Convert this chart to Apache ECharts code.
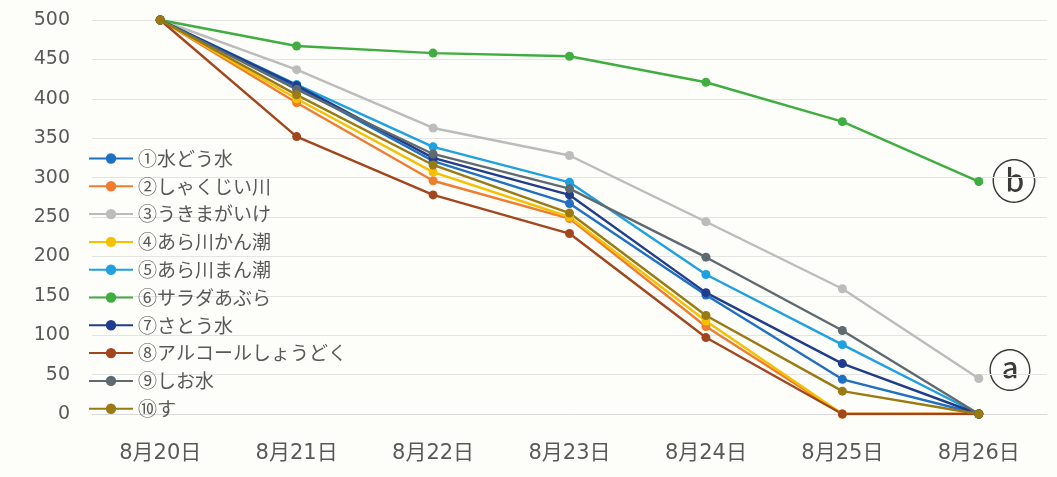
<!DOCTYPE html>
<html>
<head>
<meta charset="utf-8">
<script src="https://cdn.jsdelivr.net/npm/echarts@6/dist/echarts.min.js"></script>
<style>
html,body{margin:0;padding:0;background:#fdfdf9;}
#chart{width:1057px;height:477px;}
</style>
</head>
<body>
<div id="chart"></div>
<script>
const dates = ['8月20日','8月21日','8月22日','8月23日','8月24日','8月25日','8月26日'];
const yTicks = [0, 50, 100, 150, 200, 250, 300, 350, 400, 450, 500];

const s1 = [500, 415, 321, 267, 151, 44, 0];   // ①水どう水
const s2 = [500, 395, 296, 248, 111, 0, 0];    // ②しゃくじい川
const s3 = [500, 437, 363, 328, 244, 159, 45]; // ③うきまがいけ
const s4 = [500, 400, 307, 250, 118, 0, 0];    // ④あら川かん潮
const s5 = [500, 418, 339, 294, 177, 88, 0];   // ⑤あら川まん潮
const s6 = [500, 467, 458, 454, 421, 371, 295];// ⑥サラダあぶら
const s7 = [500, 417, 325, 278, 154, 64, 0];   // ⑦さとう水
const s8 = [500, 352, 278, 229, 97, 0, 0];     // ⑧アルコールしょうどく
const s9 = [500, 412, 330, 286, 199, 106, 0];  // ⑨しお水
const s10 = [500, 405, 316, 255, 125, 29, 0];  // ⑩す

const names = ['①水どう水','②しゃくじい川','③うきまがいけ','④あら川かん潮','⑤あら川まん潮','⑥サラダあぶら','⑦さとう水','⑧アルコールしょうどく','⑨しお水','⑩す'];
const values = [s1,s2,s3,s4,s5,s6,s7,s8,s9,s10];
const colors = ['#1f6fc2','#f07c30','#bcbcbc','#f5c000','#1fa0e0','#40ad40','#1f3d8c','#a2461e','#5e6a70','#9a7a12'];
const annotB = 'ⓑ';
const annotA = 'ⓐ';

const FONT = '"Noto Sans CJK JP", "Noto Sans", sans-serif';
const NUMFONT = '"DejaVu Sans", "Noto Sans CJK JP", sans-serif';

const chart = echarts.init(document.getElementById('chart'), null, {renderer:'canvas'});
chart.setOption({
  backgroundColor: '#fdfdf9',
  animation: false,
  color: colors,
  grid: { left: 92, right: 10, top: 20, bottom: 63 },
  legend: {
    orient: 'vertical',
    left: 83,
    top: 144,
    itemWidth: 44,
    itemHeight: 13,
    itemGap: 8.8,
    textStyle: { fontFamily: FONT, fontSize: 19, color: '#595959', lineHeight: 19 },
    data: names
  },
  xAxis: {
    type: 'category',
    data: dates,
    boundaryGap: true,
    axisLine: { show: true, lineStyle: { color: '#d9d9d9', width: 1 } },
    axisTick: { show: false },
    axisLabel: { fontFamily: NUMFONT, fontSize: 21, color: '#595959', margin: 29 }
  },
  yAxis: {
    type: 'value',
    min: yTicks[0],
    max: yTicks[yTicks.length - 1],
    interval: yTicks[1] - yTicks[0],
    axisLine: { show: false },
    axisTick: { show: false },
    splitLine: { lineStyle: { color: '#e4e4e2', width: 1 } },
    axisLabel: { fontFamily: NUMFONT, fontSize: 19, color: '#595959', margin: 22 }
  },
  graphic: [
    { type: 'text', left: 991, top: 158, style: { text: annotB, fontFamily: FONT, fontSize: 46, fill: '#3a3a3a' } },
    { type: 'text', left: 988, top: 348, style: { text: annotA, fontFamily: FONT, fontSize: 44, fill: '#3a3a3a' } }
  ],
  series: names.map((n, i) => ({
    name: n,
    type: 'line',
    data: values[i],
    symbol: 'circle',
    symbolSize: 9,
    lineStyle: { width: 2.4, color: colors[i] },
    itemStyle: { color: colors[i] }
  }))
});
</script>
</body>
</html>
